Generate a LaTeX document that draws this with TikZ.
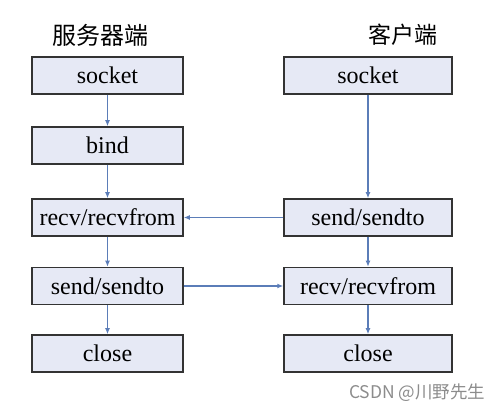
\documentclass[tikz,border=0pt]{standalone}
\usepackage{fontspec}
\setmainfont{Liberation Serif}
\newfontfamily\cjk{Noto Sans CJK SC}
\usepackage{xcolor}
\usepackage{tikz}
\usetikzlibrary{arrows.meta,positioning,calc}
\definecolor{boxfill}{HTML}{E6E9F5}
\definecolor{boxline}{HTML}{333333}
\definecolor{arrowblue}{HTML}{5B7DB8}

\begin{document}
\begin{tikzpicture}[x=1pt,y=-1pt,
  box/.style={draw=boxline,line width=1.5pt,fill=boxfill,minimum height=37pt,
    inner sep=0pt,font=\fontsize{24}{26}\selectfont},
  sbox/.style={box,minimum width=151pt},
  cbox/.style={box,minimum width=168pt},
  flow/.style={arrowblue,line width=1.2pt,-{Latex[length=6pt,width=5pt]}}]
  \useasboundingbox (0,0) rectangle (504,411);
  % 标题
  \node (stitle) at (100.5,35) {\cjk\fontsize{24}{26}\selectfont 服务器端};
  \node (ctitle) at (403,35) {\cjk\fontsize{23}{26}\selectfont 客户端};
  % 服务器端
  \node[sbox] (ssocket) at (107.5,75.5) {socket};
  \node[sbox] (sbind) at (107.5,145.5) {bind};
  \node[sbox] (srecv) at (107.5,217.5) {recv/recvfrom};
  \node[sbox] (ssend) at (107.5,286) {send/sendto};
  \node[sbox] (sclose) at (107.5,353.5) {close};
  % 客户端
  \node[cbox] (csocket) at (368,75.5) {socket};
  \node[cbox] (csend) at (368,217.5) {send/sendto};
  \node[cbox] (crecv) at (368,286) {recv/recvfrom};
  \node[cbox] (cclose) at (368,353.5) {close};
  \draw[flow] (ssocket) -- (sbind);
  \draw[flow] (sbind) -- (srecv);
  \draw[flow] (srecv) -- (ssend);
  \draw[flow] (ssend) -- (sclose);
  \draw[flow] (csocket) -- (csend);
  \draw[flow] (csend) -- (crecv);
  \draw[flow] (crecv) -- (cclose);
  \draw[flow] (csend) -- (srecv);
  \draw[flow] (ssend) -- (crecv);
  \node[text=black!45,anchor=east] (mark) at (489,393)
    {\cjk\fontsize{17.5}{20}\selectfont CSDN @川野先生};
\end{tikzpicture}
\end{document}
